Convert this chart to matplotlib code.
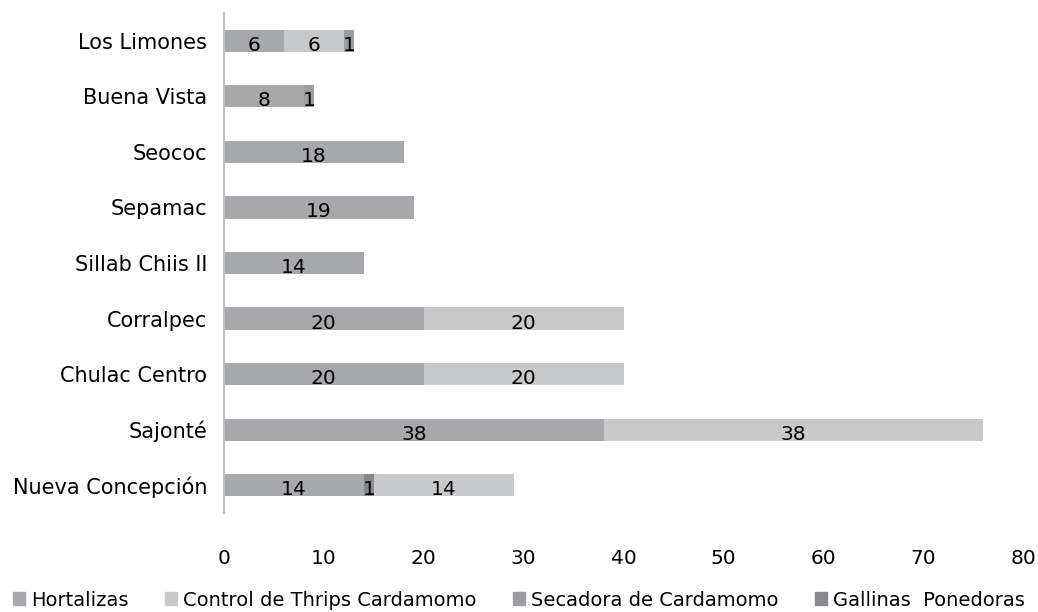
import numpy as np
import matplotlib.pyplot as plt
from matplotlib.patches import Patch

# categories, top to bottom as drawn
communities = ["Los Limones", "Buena Vista", "Seococ", "Sepamac", "Sillab Chiis II",
               "Corralpec", "Chulac Centro", "Sajonté", "Nueva Concepción"]

hortalizas = [6, 8, 18, 19, 14, 20, 20, 38, 14]
gallinas = [0, 0, 0, 0, 0, 0, 0, 0, 1]
control_thrips = [6, 0, 0, 0, 0, 20, 20, 38, 14]
secadora = [1, 1, 0, 0, 0, 0, 0, 0, 0]

x_ticks = [0, 10, 20, 30, 40, 50, 60, 70, 80]

col_hort = "#a7a8ab"
col_ctrl = "#c8c9cb"
col_sec = "#9d9ea1"
col_gall = "#88898c"

plt.rcParams['font.family'] = ['DejaVu Sans']

fig = plt.figure(figsize=(10.38, 6.12), dpi=100)
ax = fig.add_axes([224/1038, 1 - 513/612, (1023-224)/1038, 500/612])

y = np.arange(len(communities))[::-1]
left = np.zeros(len(communities))
# stacking order as seen in the picture
for vals, col in [(hortalizas, col_hort), (gallinas, col_gall),
                  (control_thrips, col_ctrl), (secadora, col_sec)]:
    vals = np.array(vals, dtype=float)
    ax.barh(y, vals, left=left, height=0.4, color=col, edgecolor="none")
    for yi, l, v in zip(y, left, vals):
        if v > 0:
            ax.text(l + v / 2, yi - 0.08, f"{int(v)}", ha="center", va="center",
                    fontsize=14.5, color="black")
    left += vals

ax.set_xlim(0, 80)
ax.set_ylim(-0.5, len(communities) - 0.5)
ax.set_xticks(x_ticks)
ax.set_yticks(y)
ax.set_yticklabels(communities, fontsize=15)
ax.tick_params(axis="x", length=0, pad=26, labelsize=14.5)
ax.tick_params(axis="y", length=0, pad=12)
for s in ["top", "right", "bottom"]:
    ax.spines[s].set_visible(False)
ax.spines["left"].set_color("#bfbfbf")
ax.spines["left"].set_linewidth(1.5)

handles = [Patch(color=col_hort, label="Hortalizas"),
           Patch(color=col_ctrl, label="Control de Thrips Cardamomo"),
           Patch(color=col_sec, label="Secadora de Cardamomo"),
           Patch(color=col_gall, label="Gallinas  Ponedoras")]
fig.legend(handles=handles, loc="center", bbox_to_anchor=(0.5, 1 - 600/612),
           ncol=4, frameon=False, fontsize=14, handlelength=0.6, handleheight=0.6,
           handletextpad=0.3, columnspacing=1.9, borderpad=0)

fig.savefig("out.png", dpi=100)
